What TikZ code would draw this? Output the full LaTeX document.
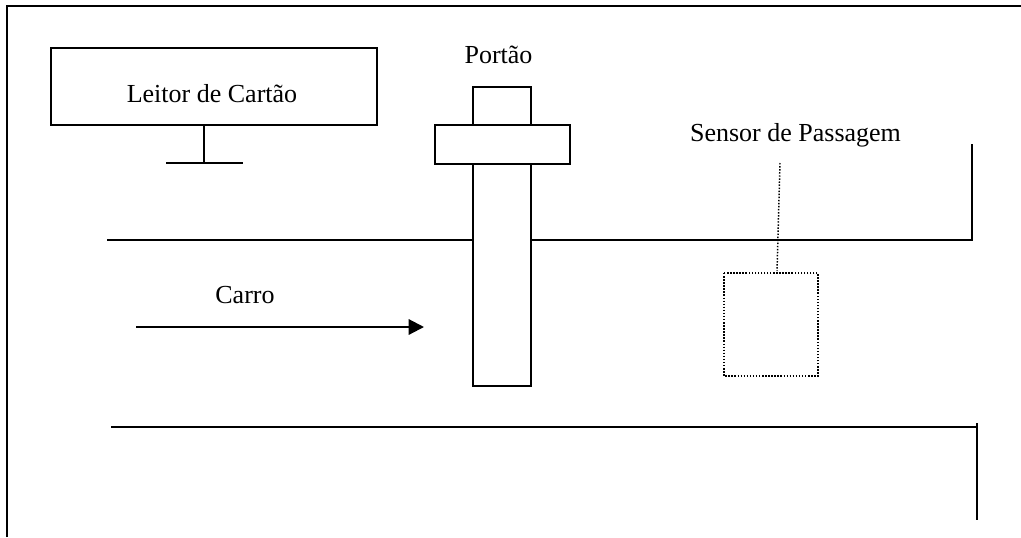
\documentclass[tikz,border=0pt]{standalone}
\usepackage{fontspec}
\setmainfont{Liberation Serif}
\usetikzlibrary{arrows.meta}
\begin{document}
\begin{tikzpicture}[x=0.75pt,y=-0.75pt,
  solid line/.style={line width=1.6pt, line cap=butt},
  thin line/.style={line width=0.9pt},
  dot line/.style={line width=1.1pt, dash pattern=on 1.1pt off 1.2pt},
  label/.style={font=\fontsize{19.5}{23}\selectfont, inner sep=0pt, anchor=base}]
\useasboundingbox (0,0) rectangle (1021,537);
% outer frame
\draw[solid line] (7,537) -- (7,6) -- (1021,6);
% card reader
\draw[solid line] (51,48) rectangle (377,125);
\node[label] (reader) at (212,102) {Leitor de Cartão};
\coordinate (stemtop) at (204,125);
\coordinate (stembot) at (204,163);
\draw[solid line] (stemtop) -- (stembot);
\draw[solid line] (166,163) -- (243,163);
% road lines
\draw[solid line] (107,240) -- (972,240) -- (972,144);
\draw[solid line] (111,427) -- (977,427);
\draw[solid line] (977,423) -- (977,520);
% gate
\node[label] (gate) at (498.5,63) {Portão};
\draw[solid line, fill=white] (473,164) rectangle (531,386);
\draw[solid line, fill=white] (473,87) rectangle (531,125);
\draw[solid line, fill=white] (435,125) rectangle (570,164);
% car
\node[label] (car) at (245,303) {Carro};
\coordinate (a0) at (136,327);
\coordinate (a1) at (196,327);
\coordinate (a2) at (304,327);
\coordinate (a3) at (424,327);
\draw[solid line] (a0) -- (a1);
\draw[thin line] (a1) -- (a2);
\draw[solid line, -{Triangle[length=11.5pt,width=11.5pt]}] (a2) -- (a3);
% sensor
\node[label] (sensor) at (795.5,141) {Sensor de Passagem};
\draw[dot line] (724,273) rectangle (818,376);
\coordinate (s0) at (780,163);
\coordinate (s1) at (777,271);
\draw[dot line] (s0) -- (s1);
\end{tikzpicture}
\end{document}
